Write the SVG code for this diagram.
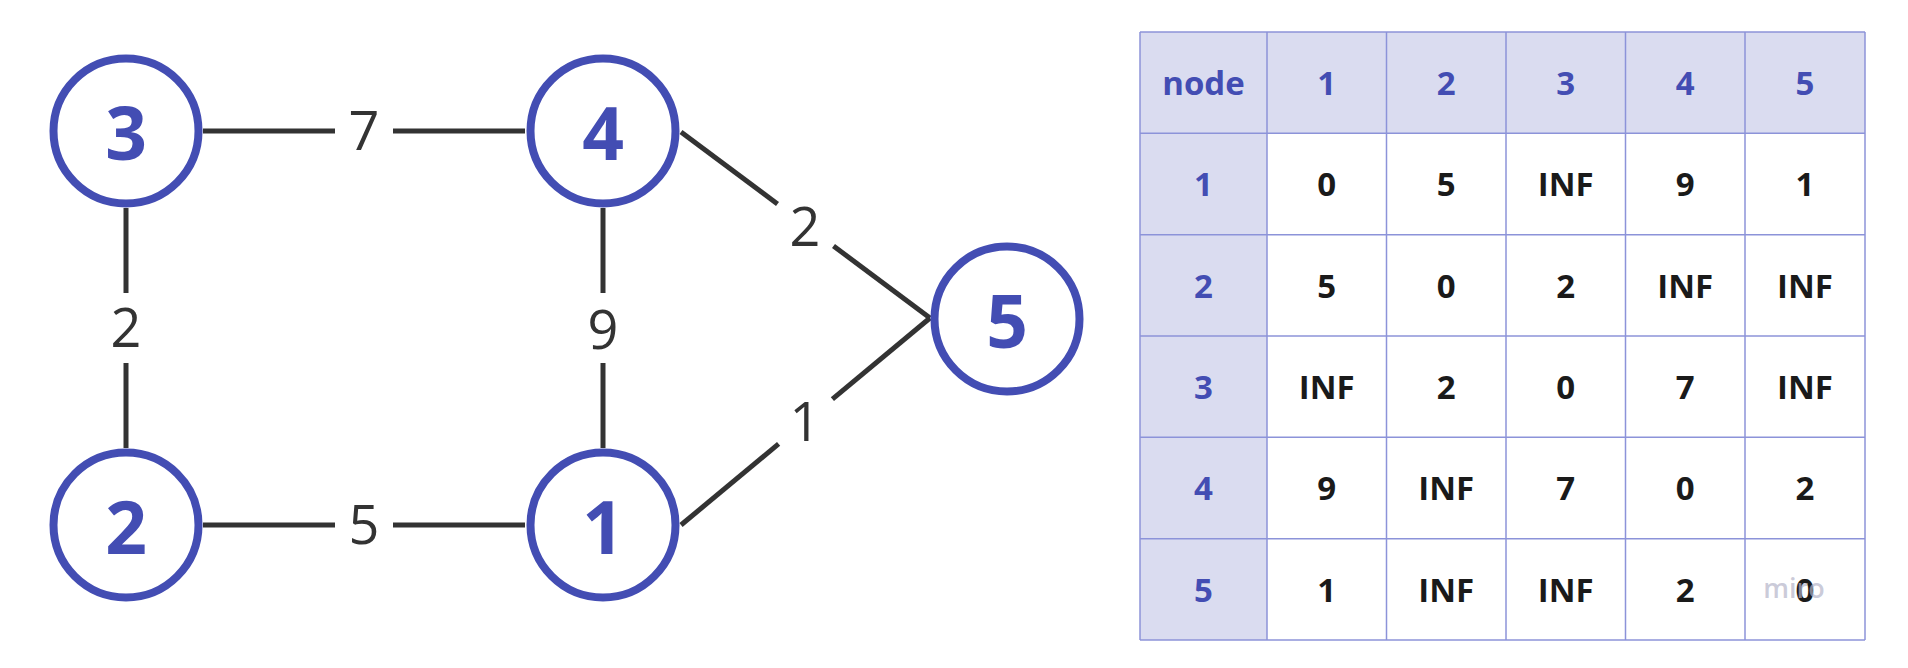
<svg xmlns="http://www.w3.org/2000/svg" width="1908" height="668" viewBox="0 0 1908 668">
<style>
.node circle{fill:#fff;stroke:#434db3;stroke-width:8}
.node text{font-family:"Open Sans","Noto Sans",sans-serif;font-weight:700;font-size:73px;fill:#434db3;text-anchor:middle}
.edges line{stroke:#333;stroke-width:5}
.elabel{font-family:"Open Sans","Noto Sans",sans-serif;font-size:54px;fill:#333;text-anchor:middle}
.hdr{fill:#dadcf0}
.grid line{stroke:#8c93d9;stroke-width:1.5}
.th{font-family:"Open Sans","Noto Sans",sans-serif;font-weight:700;font-size:33px;fill:#434db3;text-anchor:middle}
.td{font-family:"Open Sans","Noto Sans",sans-serif;font-weight:700;font-size:33px;fill:#1a1a1a;text-anchor:middle}
</style>
<rect width="1908" height="668" fill="#fff"/>
<g class="edges" id="connectors">
<line x1="203" y1="131" x2="335" y2="131"/><line x1="393" y1="131" x2="525" y2="131"/>
<line x1="126" y1="208" x2="126" y2="293"/><line x1="126" y1="363" x2="126" y2="448"/>
<line x1="603" y1="208" x2="603" y2="293"/><line x1="603" y1="363" x2="603" y2="448"/>
<line x1="203" y1="525" x2="335" y2="525"/><line x1="393" y1="525" x2="525" y2="525"/>
<line x1="681" y1="132" x2="777.5" y2="204"/><line x1="833.5" y1="246" x2="930" y2="318"/>
<line x1="681" y1="525" x2="778.6" y2="443.9"/><line x1="832.4" y1="399.1" x2="930" y2="318"/>
<text class="elabel" x="364" y="150">7</text>
<text class="elabel" x="126" y="347">2</text>
<text class="elabel" x="603" y="349">9</text>
<text class="elabel" x="364" y="544">5</text>
<text class="elabel" x="805" y="246">2</text>
<text class="elabel" x="805" y="441">1</text>
</g>
<g class="node" id="node3"><circle cx="126" cy="131" r="72.5"/><text x="126" y="160">3</text></g>
<g class="node" id="node4"><circle cx="603" cy="131" r="72.5"/><text x="603" y="160">4</text></g>
<g class="node" id="node2"><circle cx="126" cy="525" r="72.5"/><text x="126" y="554">2</text></g>
<g class="node" id="node1"><circle cx="603" cy="525" r="72.5"/><text x="603" y="554">1</text></g>
<g class="node" id="node5"><circle cx="1007" cy="319" r="72.5"/><text x="1007" y="348">5</text></g>
<g id="table">
<rect class="hdr" x="1140" y="32" width="725" height="101.3"/>
<rect class="hdr" x="1140" y="133.3" width="127" height="506.7"/>
<g class="grid">
<line x1="1140" y1="32" x2="1865" y2="32"/>
<line x1="1140" y1="133.3" x2="1865" y2="133.3"/>
<line x1="1140" y1="234.7" x2="1865" y2="234.7"/>
<line x1="1140" y1="336" x2="1865" y2="336"/>
<line x1="1140" y1="437.3" x2="1865" y2="437.3"/>
<line x1="1140" y1="538.7" x2="1865" y2="538.7"/>
<line x1="1140" y1="640" x2="1865" y2="640"/>
<line x1="1140" y1="32" x2="1140" y2="640"/>
<line x1="1267" y1="32" x2="1267" y2="640"/>
<line x1="1386.5" y1="32" x2="1386.5" y2="640"/>
<line x1="1506" y1="32" x2="1506" y2="640"/>
<line x1="1625.5" y1="32" x2="1625.5" y2="640"/>
<line x1="1745" y1="32" x2="1745" y2="640"/>
<line x1="1865" y1="32" x2="1865" y2="640"/>
</g>
<text class="th" x="1203.5" y="95">node</text>
<text class="th" x="1326.8" y="95">1</text>
<text class="th" x="1446.3" y="95">2</text>
<text class="th" x="1565.8" y="95">3</text>
<text class="th" x="1685.3" y="95">4</text>
<text class="th" x="1805" y="95">5</text>
<text class="th" x="1203.5" y="196.3">1</text>
<text class="th" x="1203.5" y="297.7">2</text>
<text class="th" x="1203.5" y="399">3</text>
<text class="th" x="1203.5" y="500.3">4</text>
<text class="th" x="1203.5" y="601.7">5</text>
<text class="td" x="1326.8" y="196.3">0</text><text class="td" x="1446.3" y="196.3">5</text><text class="td" x="1565.8" y="196.3">INF</text><text class="td" x="1685.3" y="196.3">9</text><text class="td" x="1805" y="196.3">1</text>
<text class="td" x="1326.8" y="297.7">5</text><text class="td" x="1446.3" y="297.7">0</text><text class="td" x="1565.8" y="297.7">2</text><text class="td" x="1685.3" y="297.7">INF</text><text class="td" x="1805" y="297.7">INF</text>
<text class="td" x="1326.8" y="399">INF</text><text class="td" x="1446.3" y="399">2</text><text class="td" x="1565.8" y="399">0</text><text class="td" x="1685.3" y="399">7</text><text class="td" x="1805" y="399">INF</text>
<text class="td" x="1326.8" y="500.3">9</text><text class="td" x="1446.3" y="500.3">INF</text><text class="td" x="1565.8" y="500.3">7</text><text class="td" x="1685.3" y="500.3">0</text><text class="td" x="1805" y="500.3">2</text>
<text class="td" x="1326.8" y="601.7">1</text><text class="td" x="1446.3" y="601.7">INF</text><text class="td" x="1565.8" y="601.7">INF</text><text class="td" x="1685.3" y="601.7">2</text><text class="td" x="1805" y="601.7">0</text>
<text x="1794" y="598" font-family="Open Sans, sans-serif" font-weight="600" font-size="27" fill="#b4b4c8" fill-opacity="0.7" text-anchor="middle">miro</text>
</g>
</svg>
